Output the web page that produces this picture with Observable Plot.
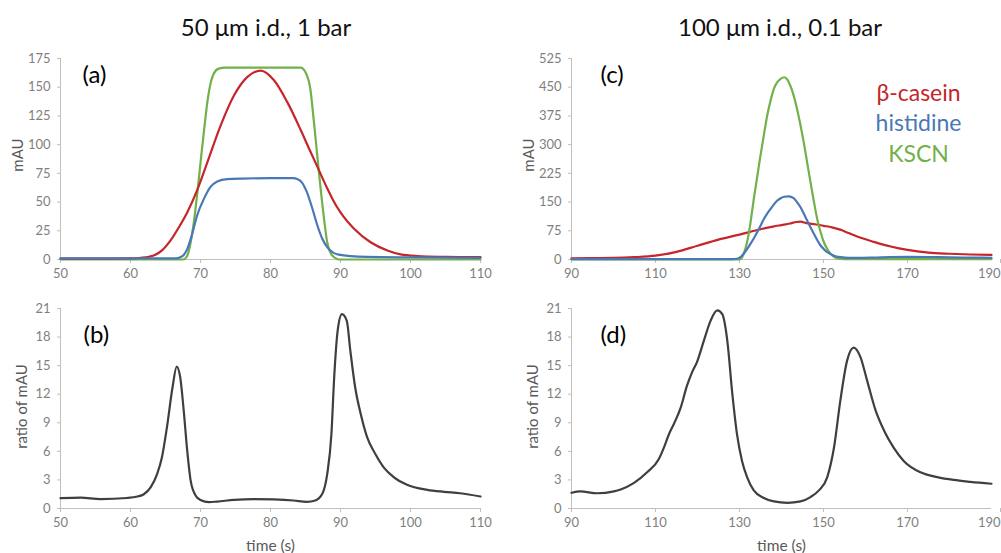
<!DOCTYPE html>
<html><head><meta charset="utf-8">
<script src="https://cdn.jsdelivr.net/npm/d3@7"></script>
<script src="https://cdn.jsdelivr.net/npm/@observablehq/plot@0.6"></script>
<style>
body{margin:0;background:#fff;}
#wrap{position:relative;width:1001px;height:553px;overflow:hidden;background:#fff;font-family:Lato,"Open Sans",sans-serif;}
.panel{position:absolute;}
.title{position:absolute;top:12px;font-size:24px;line-height:30px;color:#111;text-align:center;width:400px;white-space:nowrap;}
</style></head>
<body><div id="wrap"></div>
<script>
// ---------- DATA ----------
const titles = ["50 μm i.d., 1 bar", "100 μm i.d., 0.1 bar"];
const seriesNames = ["β-casein", "histidine", "KSCN"];
const seriesColors = ["#c4262b", "#4a78b6", "#72b04a"];
const ratioColor = "#3f3f3f";

const xTicksLeft = [50, 60, 70, 80, 90, 100, 110];
const xTicksRight = [90, 110, 130, 150, 170, 190];
const yTicksA = [0, 25, 50, 75, 100, 125, 150, 175];
const yTicksC = [0, 75, 150, 225, 300, 375, 450, 525];
const yTicksRatio = [0, 3, 6, 9, 12, 15, 18, 21];

// Panel (a)
const redA_t = [50, 55, 60, 61.5, 63.3, 64.5, 65.7, 67, 68.1, 69.6, 71, 72.9, 74.8, 76.7, 78.6, 80.5, 82.4, 84.3, 85.7, 86.9, 88.1, 89, 90, 91.9, 94.3, 96.7, 98.6, 101, 105, 110];
const redA_v = [0.8, 0.8, 1.0, 1.5, 3.5, 8, 16.5, 29, 41, 61.5, 85, 117, 143, 159, 164.5, 156, 137, 113, 94, 78, 62, 51, 41, 27, 15, 7.8, 4.4, 3, 2.3, 2];
const blueA_t = [50, 60, 66.5, 67.1, 67.6, 68.1, 68.8, 69.5, 70.5, 71.4, 72.4, 73.8, 76, 80, 83.3, 83.8, 84.5, 85.2, 86, 86.7, 87.4, 88.1, 89, 90, 91.4, 93.8, 100, 110];
const blueA_v = [1, 1, 1, 2, 4, 9, 22, 38, 53, 63, 68, 70, 70.5, 70.8, 70.8, 70, 67, 58.6, 44, 29.6, 18, 10.7, 5.8, 4, 3, 2.2, 1.8, 1.5];
const greenA_t = [50, 60, 67.5, 68.0, 68.6, 69.1, 69.6, 70.1, 70.5, 71.0, 71.5, 71.9, 72.6, 73.5, 80, 84.3, 85.0, 85.7, 86.2, 86.9, 87.6, 88.1, 88.8, 89.5, 90, 100, 110];
const greenA_v = [0, 0, 0, 2, 15, 35, 61, 90, 112, 138, 155, 162, 166.2, 167, 167, 167, 163, 148, 120, 77, 38, 15, 3.5, 0.5, 0, 0, 0];

// Panel (c)
const redC_t = [90, 95, 100, 105, 110, 115, 120, 125, 130, 135, 138, 140, 142, 143.5, 144.5, 146, 148, 150, 152, 154, 156, 158, 162, 166, 170, 175, 180, 185, 190];
const redC_v = [3, 3.5, 4, 6, 10, 20, 36, 52, 65, 79, 86, 90, 94, 98, 99, 95, 92, 88, 84, 78, 69, 60, 46, 34, 25, 18, 15, 13, 12];
const blueC_t = [90, 128, 129.4, 130.2, 131, 131.8, 132.6, 133.4, 134.2, 135, 135.8, 136.6, 137.4, 138.2, 139, 139.8, 140.6, 141.7, 142.9, 143.7, 144.5, 145.3, 146.1, 146.9, 147.7, 148.5, 149.3, 150.1, 150.9, 151.7, 152.5, 154.1, 156, 158, 162, 166, 170, 175, 180, 185, 190];
const blueC_v = [1, 1, 2, 6, 15, 27, 41, 55, 71, 88, 106, 120, 132, 144, 154, 160, 164, 165, 160, 150, 137, 120, 102, 84, 67, 51, 36.6, 27, 19, 14, 10, 6, 4, 4, 5, 6.5, 7, 6.5, 5.5, 5, 4.5];
const greenC_t = [90, 129.5, 130.2, 131, 131.8, 132.6, 133.4, 134.2, 135, 135.8, 136.6, 137.4, 138.2, 139, 139.8, 140.7, 141.4, 142.1, 142.9, 143.7, 144.5, 145.3, 146.1, 146.9, 147.7, 148.5, 149.3, 150.1, 150.9, 151.7, 152.5, 153.3, 155, 190];
const greenC_v = [0, 0, 1, 15, 45, 95, 158, 215, 272, 325, 376, 415, 446, 463, 472, 476, 470, 454, 428, 393, 352, 306, 254, 202, 152, 106, 72, 45, 27, 15, 7, 3, 1, 1];

// Panel (b) ratio
const ratioB_t = [50, 52.9, 55.7, 59.5, 61, 61.9, 62.9, 63.8, 64.5, 65.2, 66, 66.6, 67.1, 67.6, 68.1, 68.6, 69.3, 70, 71.2, 72.4, 74.8, 77.6, 80.5, 83.3, 85.2, 86.4, 87.4, 88.1, 88.7, 89.1, 89.6, 90.2, 90.9, 91.4, 92.1, 92.9, 93.8, 95, 96.2, 97.6, 99.5, 102.4, 104.8, 107.1, 110];
const ratioB_v = [1.09, 1.15, 0.98, 1.1, 1.26, 1.5, 2.24, 3.6, 5.4, 8.5, 12.7, 14.9, 13.8, 10.3, 6.1, 2.9, 1.37, 0.9, 0.67, 0.73, 0.9, 0.98, 0.95, 0.84, 0.7, 0.84, 1.54, 3.6, 7.8, 13.8, 18.7, 20.4, 19.7, 16.6, 12.7, 9.9, 7.5, 5.7, 4.3, 3.3, 2.5, 1.96, 1.75, 1.6, 1.26];

// Panel (d) ratio
const ratioD_t = [90, 92.1, 96.1, 100.1, 101.7, 104.8, 108, 110.8, 112, 113.2, 114.4, 116, 117.5, 118.7, 119.9, 121.5, 123.1, 124.7, 125.9, 127.1, 128.3, 129.4, 130.6, 131.8, 133.4, 135.8, 138.2, 141.4, 144.5, 146.9, 148.9, 150.9, 152.5, 154, 155.6, 157.2, 158.8, 160.4, 162.4, 164.4, 166.7, 169.1, 173.1, 177.1, 181, 185, 190];
const ratioD_v = [1.65, 1.8, 1.6, 1.8, 2.0, 2.66, 3.8, 5.2, 6.4, 7.8, 8.9, 10.6, 12.9, 14.3, 15.4, 17.6, 19.7, 20.8, 20.4, 17.6, 12, 7.8, 5, 3.3, 1.9, 1.1, 0.74, 0.6, 0.74, 1.2, 1.9, 3.3, 6.4, 11.3, 15.5, 16.9, 15.9, 13.4, 10.3, 8.2, 6.4, 5, 3.8, 3.3, 3, 2.8, 2.6];

// ---------- BUILD ----------
const axisGray = "#bfbfbf";
const tickText = "#7f7f7f";
const labelText = "#595959";
const toRows = (t, v) => t.map((x, i) => ({x, y: v[i]}));

function panel({xDomain, xTicks, yDomain, yTicks, lines, tag, tagDx, tagDy, yLabel, yLabelOff, yLabelDy, xLabel, width, height, mt, mb, ml, mr, legend, lastTickEdge}) {
  const axisCommon = {tickSize: 4, tickPadding: 5, stroke: axisGray, fill: tickText, label: null, fontSize: 13};
  const xAxisMarks = lastTickEdge
    ? [
        Plot.axisX({...axisCommon, ticks: xTicks.slice(0, -1)}),
        Plot.axisX({...axisCommon, ticks: xTicks.slice(-1), textAnchor: "end", dx: 9})
      ]
    : [Plot.axisX({...axisCommon, ticks: xTicks})];
  const marks = [
    Plot.ruleY([yDomain[0]], {stroke: axisGray}),
    Plot.ruleX([xDomain[0]], {stroke: axisGray}),
    ...xAxisMarks,
    Plot.axisY({ticks: yTicks, tickSize: 3, tickPadding: 7, stroke: axisGray, fill: tickText, label: null, fontSize: 13}),
    ...lines.map(l => Plot.line(l.rows, {x: "x", y: "y", stroke: l.color, strokeWidth: 2.2, curve: "monotone-x"})),
    Plot.text([tag], {frameAnchor: "top-left", textAnchor: "start", lineAnchor: "middle", dx: tagDx, dy: tagDy, fontSize: 24, fill: "#000"}),
    Plot.text([yLabel], {frameAnchor: "left", rotate: -90, textAnchor: "middle", lineAnchor: "middle", dx: -yLabelOff, dy: yLabelDy, fontSize: 15, fill: labelText})
  ];
  if (xLabel) marks.push(Plot.text([xLabel], {frameAnchor: "bottom", textAnchor: "middle", lineAnchor: "middle", dy: 38, fontSize: 15.5, fill: labelText}));
  if (legend) {
    legend.forEach((name, i) => {
      marks.push(Plot.text([name], {frameAnchor: "top-right", textAnchor: "middle", lineAnchor: "middle", dx: -73, dy: 35 + i * 30.5, fontSize: 23, fill: seriesColors[i]}));
    });
  }
  return Plot.plot({
    width, height, marginTop: mt, marginBottom: mb, marginLeft: ml, marginRight: mr,
    style: {fontFamily: "Lato, 'Open Sans', sans-serif", background: "transparent", overflow: "visible"},
    x: {domain: xDomain},
    y: {domain: yDomain},
    marks
  });
}

const wrap = document.getElementById("wrap");
function place(el, left, top) {
  const d = document.createElement("div");
  d.className = "panel";
  d.style.left = left + "px";
  d.style.top = top + "px";
  d.appendChild(el);
  wrap.appendChild(d);
}
function addTitle(text, cx) {
  const t = document.createElement("div");
  t.className = "title";
  t.textContent = text;
  t.style.left = (cx - 200) + "px";
  wrap.appendChild(t);
}

addTitle(titles[0], 266);
addTitle(titles[1], 780);

place(panel({
  xDomain: [50, 110], xTicks: xTicksLeft, yDomain: [0, 175], yTicks: yTicksA,
  lines: [
    {rows: toRows(greenA_t, greenA_v), color: seriesColors[2]},
    {rows: toRows(redA_t, redA_v), color: seriesColors[0]},
    {rows: toRows(blueA_t, blueA_v), color: seriesColors[1]}
  ],
  tag: "(a)", tagDx: 22, tagDy: 17, yLabel: "mAU", yLabelOff: 42, yLabelDy: -4,
  width: 500, height: 245, mt: 18, mb: 26, ml: 60, mr: 20
}), 0, 40);

place(panel({
  xDomain: [90, 190], xTicks: xTicksRight, yDomain: [0, 525], yTicks: yTicksC,
  lines: [
    {rows: toRows(redC_t, redC_v), color: seriesColors[0]},
    {rows: toRows(greenC_t, greenC_v), color: seriesColors[2]},
    {rows: toRows(blueC_t, blueC_v), color: seriesColors[1]}
  ],
  tag: "(c)", tagDx: 29, tagDy: 17, yLabel: "mAU", yLabelOff: 42, yLabelDy: -4, legend: seriesNames, lastTickEdge: true,
  width: 501, height: 245, mt: 18, mb: 26, ml: 71, mr: 10
}), 500, 40);

place(panel({
  xDomain: [50, 110], xTicks: xTicksLeft, yDomain: [0, 21], yTicks: yTicksRatio,
  lines: [{rows: toRows(ratioB_t, ratioB_v), color: ratioColor}],
  tag: "(b)", tagDx: 23, tagDy: 27, yLabel: "ratio of mAU", yLabelOff: 38, yLabelDy: -2, xLabel: "time (s)",
  width: 500, height: 263, mt: 18, mb: 45, ml: 60, mr: 20
}), 0, 290);

place(panel({
  xDomain: [90, 190], xTicks: xTicksRight, yDomain: [0, 21], yTicks: yTicksRatio,
  lines: [{rows: toRows(ratioD_t, ratioD_v), color: ratioColor}],
  tag: "(d)", tagDx: 29, tagDy: 27, yLabel: "ratio of mAU", yLabelOff: 38, yLabelDy: -2, xLabel: "time (s)", lastTickEdge: true,
  width: 501, height: 263, mt: 18, mb: 45, ml: 71, mr: 10
}), 500, 290);
</script>
</body></html>
